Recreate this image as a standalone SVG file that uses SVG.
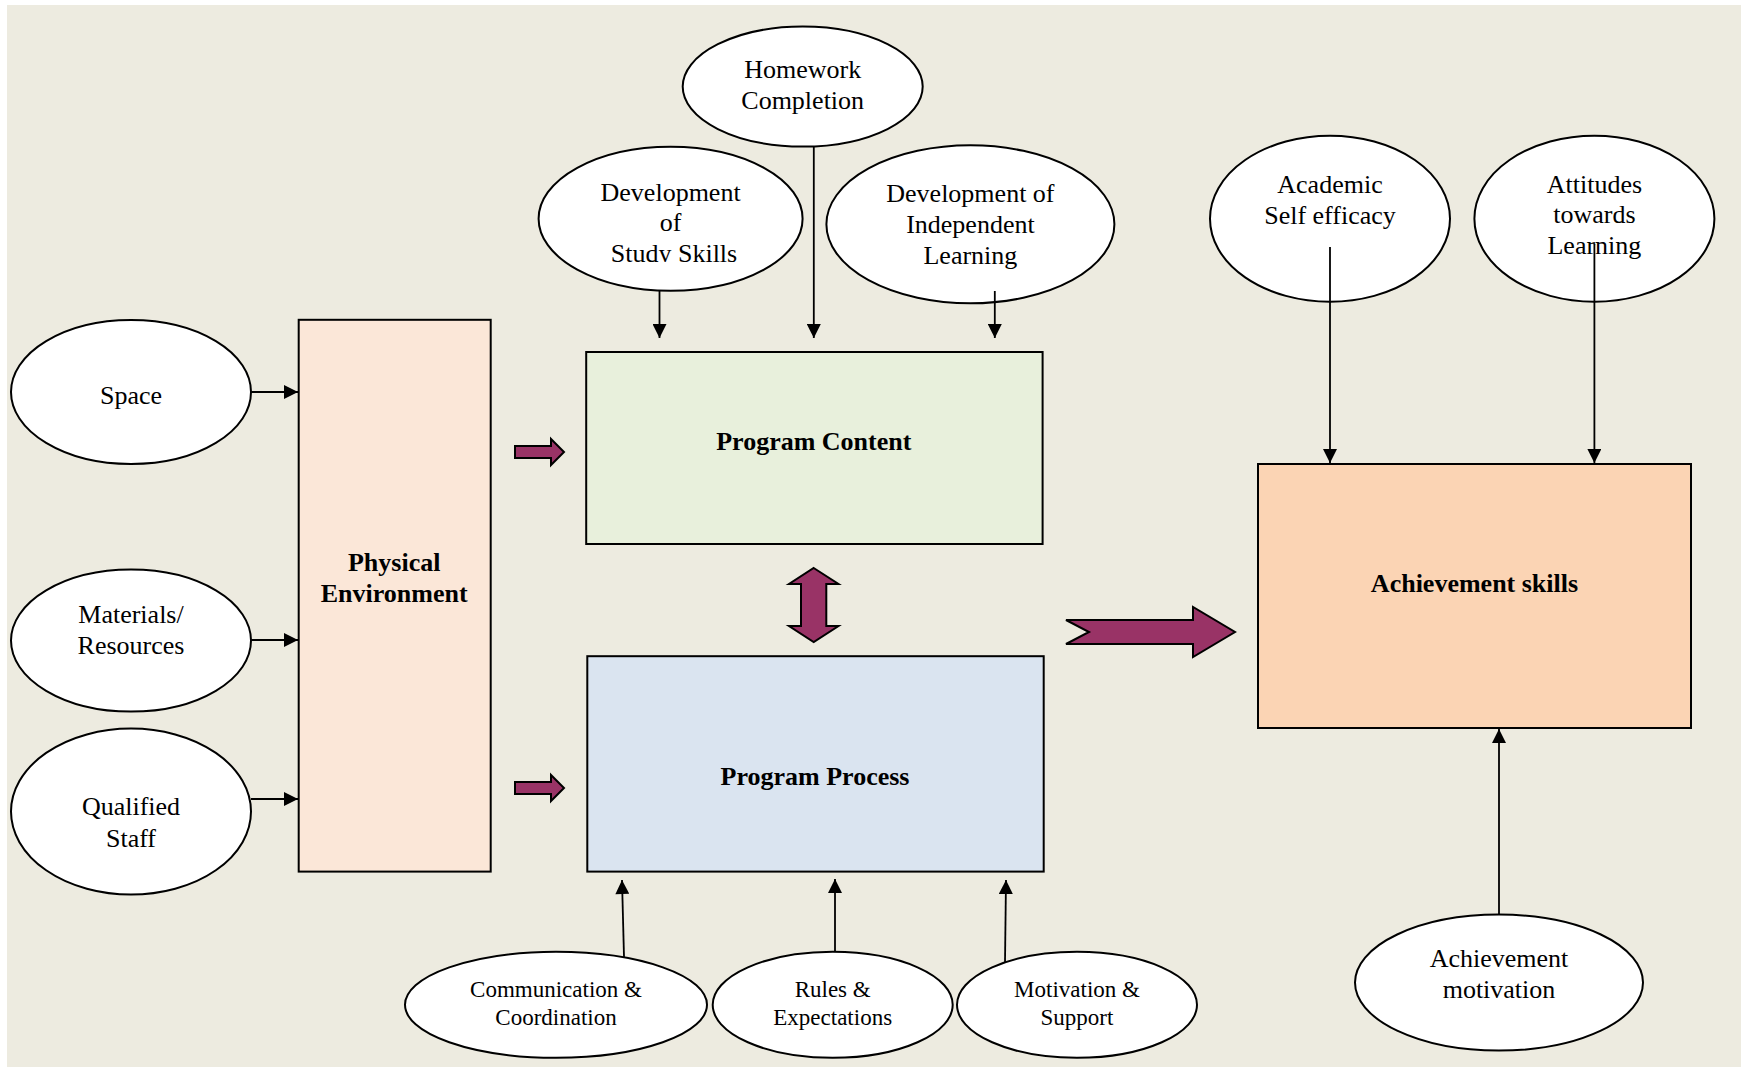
<svg xmlns="http://www.w3.org/2000/svg" width="1741" height="1067" viewBox="0 0 1741 1067">
<style>
.ell{fill:#ffffff;stroke:#000;stroke-width:2}
.box{stroke:#000;stroke-width:2}
.t{font-family:"Liberation Serif","Times New Roman",serif;font-size:26px;fill:#000;text-anchor:middle}
.s{font-size:23px}
.b{font-weight:bold}
.ln{stroke:#000;stroke-width:1.8;fill:none;marker-end:url(#ah)}
.blk{fill:#993366;stroke:#000;stroke-width:2;stroke-linejoin:miter}
</style>
<defs>
<marker id="ah" viewBox="0 0 10 10" refX="10" refY="5" markerWidth="16" markerHeight="14" markerUnits="userSpaceOnUse" orient="auto"><path d="M0,0 L10,5 L0,10 Z" fill="#000"/></marker>
<clipPath id="clipStudy"><rect x="540" y="150" width="270" height="112"/></clipPath>
</defs>
<rect x="0" y="0" width="1741" height="1067" fill="#ffffff"/>
<rect x="7" y="5" width="1734" height="1062" fill="#EDEBE0"/>

<g id="homework">
<ellipse class="ell" cx="802.7" cy="86.6" rx="120" ry="60"/>
<text class="t" x="802.7" y="78">Homework</text>
<text class="t" x="802.7" y="109">Completion</text>
</g>
<g id="study-skills">
<ellipse class="ell" cx="670.6" cy="218.7" rx="132" ry="72"/>
<text class="t" x="670.6" y="201">Development</text>
<text class="t" x="670.6" y="231">of</text>
<text class="t" x="674" y="262" clip-path="url(#clipStudy)">Study Skills</text>
</g>
<g id="independent-learning">
<ellipse class="ell" cx="970.4" cy="224.3" rx="144" ry="79"/>
<text class="t" x="970.4" y="202">Development of</text>
<text class="t" x="970.4" y="233">Independent</text>
<text class="t" x="970.4" y="264">Learning</text>
</g>
<g id="self-efficacy">
<ellipse class="ell" cx="1330" cy="218.7" rx="120" ry="83"/>
<text class="t" x="1330" y="193">Academic</text>
<text class="t" x="1330" y="224">Self efficacy</text>
</g>
<g id="attitudes">
<ellipse class="ell" cx="1594.4" cy="218.7" rx="120" ry="83"/>
<text class="t" x="1594.4" y="193">Attitudes</text>
<text class="t" x="1594.4" y="223">towards</text>
<text class="t" x="1594.4" y="254">Learning</text>
</g>
<g id="space">
<ellipse class="ell" cx="131" cy="392" rx="120" ry="72"/>
<text class="t" x="131" y="404">Space</text>
</g>
<g id="materials">
<ellipse class="ell" cx="131" cy="640.6" rx="120" ry="71"/>
<text class="t" x="131" y="623">Materials/</text>
<text class="t" x="131" y="654">Resources</text>
</g>
<g id="staff">
<ellipse class="ell" cx="131" cy="811.6" rx="120" ry="83"/>
<text class="t" x="131" y="815">Qualified</text>
<text class="t" x="131" y="847">Staff</text>
</g>
<g id="physical-environment">
<rect class="box" x="298.7" y="319.8" width="192" height="551.8" fill="#FBE7D8"/>
<text class="t b" x="394.2" y="571">Physical</text>
<text class="t b" x="394.2" y="602">Environment</text>
</g>
<g id="program-content">
<rect class="box" x="586.2" y="352" width="456.4" height="192" fill="#E8F0DC"/>
<text class="t b" x="813.8" y="450">Program Content</text>
</g>
<g id="program-process">
<rect class="box" x="587.3" y="656.2" width="456.4" height="215.4" fill="#DAE4F0"/>
<text class="t b" x="815" y="785">Program Process</text>
</g>
<g id="achievement-skills">
<rect class="box" x="1258" y="464" width="433" height="264" fill="#FBD4B4"/>
<text class="t b" x="1474.5" y="592">Achievement skills</text>
</g>
<g id="communication">
<ellipse class="ell" cx="556" cy="1004.8" rx="151" ry="53"/>
<text class="t s" x="556" y="997">Communication &amp;</text>
<text class="t s" x="556" y="1025">Coordination</text>
</g>
<g id="rules">
<ellipse class="ell" cx="832.7" cy="1004.8" rx="120" ry="53"/>
<text class="t s" x="832.7" y="997">Rules &amp;</text>
<text class="t s" x="832.7" y="1025">Expectations</text>
</g>
<g id="motivation-support">
<ellipse class="ell" cx="1077" cy="1004.8" rx="120" ry="53"/>
<text class="t s" x="1077" y="997">Motivation &amp;</text>
<text class="t s" x="1077" y="1025">Support</text>
</g>
<g id="achievement-motivation">
<ellipse class="ell" cx="1499" cy="982.6" rx="144" ry="68"/>
<text class="t" x="1499" y="967">Achievement</text>
<text class="t" x="1499" y="998">motivation</text>
</g>

<g id="connectors">
<line class="ln" x1="251" y1="392" x2="298" y2="392"/>
<line class="ln" x1="251" y1="640" x2="298" y2="640"/>
<line class="ln" x1="251" y1="799" x2="298" y2="799"/>
<line class="ln" x1="659.5" y1="291" x2="659.5" y2="338"/>
<line class="ln" x1="813.8" y1="147" x2="813.8" y2="338"/>
<line class="ln" x1="994.8" y1="291" x2="994.8" y2="338"/>
<line class="ln" x1="1330" y1="247" x2="1330" y2="463"/>
<line class="ln" x1="1594.4" y1="244" x2="1594.4" y2="463"/>
<line class="ln" x1="624" y1="957" x2="622" y2="880"/>
<line class="ln" x1="835" y1="951" x2="835" y2="879"/>
<line class="ln" x1="1005" y1="962" x2="1006" y2="880"/>
<line class="ln" x1="1499" y1="915" x2="1499" y2="729"/>
<polygon class="blk" points="515,446 551,446 551,439 564,452 551,465 551,458 515,458"/>
<polygon class="blk" points="515,782 551,782 551,775 564,788 551,801 551,794 515,794"/>
<polygon class="blk" points="813.7,568 838.5,584 826.3,584 826.3,626 838.5,626 813.7,642 789,626 801,626 801,584 789,584"/>
<polygon class="blk" points="1066,620 1193,620 1193,607 1235,632 1193,657 1193,644 1066,644 1089,632"/>
</g>
</svg>
